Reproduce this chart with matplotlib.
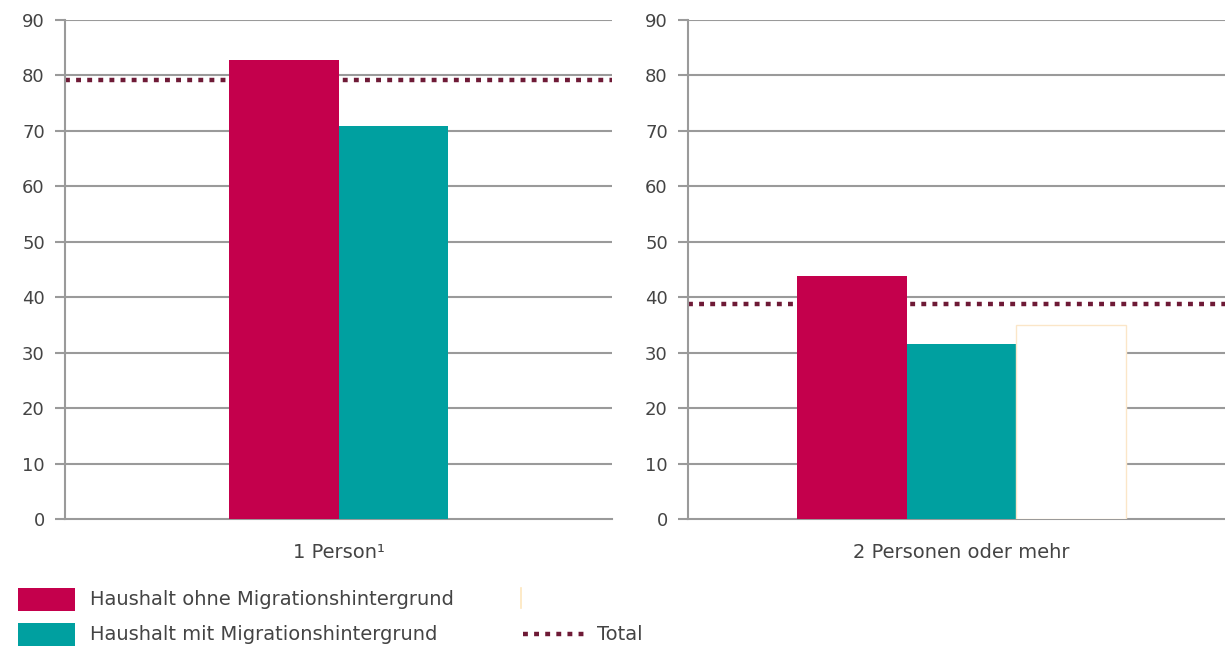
import matplotlib
matplotlib.use("Agg")
import matplotlib.pyplot as plt
from matplotlib.patches import Rectangle
from matplotlib.lines import Line2D

plt.rcParams['font.family'] = ['DejaVu Sans']

# ---- data ----
panels = ["1 Person\u00b9", "2 Personen oder mehr"]
series_names = ["Haushalt ohne Migrationshintergrund", "Haushalt mit Migrationshintergrund"]
total_label = "Total"
ohne_mig = [82.7, 43.9]
mit_mig = [70.9, 31.6]
total = [79.2, 38.8]
masked_third = [None, 35.0]   # blank (white) bar in second panel
yticks = [0, 10, 20, 30, 40, 50, 60, 70, 80, 90]

RED = "#c4004c"
TEAL = "#00a0a0"
TOTAL_C = "#6e1a36"
GRID = "#9a9a9a"
TXT = "#444444"
DOTS = (0, (1.1, 1.4))

fig = plt.figure(figsize=(12.25, 6.48), dpi=100)
W, H = 1225, 648
ax_rects = [
    (65 / W, 1 - 519 / H, 547 / W, 499 / H),
    (688 / W, 1 - 519 / H, 547 / W, 499 / H),
]

for i, rect in enumerate(ax_rects):
    ax = fig.add_axes(rect)
    ax.set_xlim(-2.5, 2.5)
    ax.set_ylim(0, 90)
    ax.set_yticks(yticks)
    for y in yticks[1:]:
        ax.axhline(y, color=GRID, lw=1.5, zorder=1)
    ax.axhline(total[i], color=TOTAL_C, lw=3.2, linestyle=DOTS, zorder=2)
    if masked_third[i] is None:
        xs = [-0.5, 0.5]
    else:
        xs = [-1, 0, 1]
    ax.bar(xs[0], ohne_mig[i], width=1.0, color=RED, zorder=3)
    ax.bar(xs[1], mit_mig[i], width=1.0, color=TEAL, zorder=3)
    if masked_third[i] is not None:
        ax.bar(xs[2], masked_third[i], width=1.0, color="white",
               edgecolor="#fbe6c8", linewidth=1.0, zorder=3)
    for s in ["top", "right"]:
        ax.spines[s].set_visible(False)
    ax.spines["left"].set_color(GRID)
    ax.spines["left"].set_linewidth(1.5)
    ax.spines["bottom"].set_color(GRID)
    ax.spines["bottom"].set_linewidth(1.5)
    ax.tick_params(axis="y", length=7.5, width=1.5, color=GRID, pad=7,
                   labelsize=13, labelcolor=TXT)
    ax.set_xticks([0])
    ax.set_xticklabels([panels[i]])
    ax.tick_params(axis="x", length=0, pad=17, labelsize=14, labelcolor=TXT)

# legend (manual, figure pixel coordinates)
def fx(px):
    return px / W

def fy(py):
    return 1 - py / H

for color, name, top in [(RED, series_names[0], 588), (TEAL, series_names[1], 623)]:
    fig.add_artist(Rectangle((fx(18), fy(top + 23)), 57 / W, 23 / H,
                             transform=fig.transFigure, facecolor=color, edgecolor="none"))
    fig.text(fx(90), fy(top + 11.5), name, fontsize=14, color=TXT, va="center", ha="left")

fig.add_artist(Line2D([fx(523), fx(585)], [fy(634), fy(634)], transform=fig.transFigure,
                      color=TOTAL_C, lw=3.2, linestyle=DOTS))
fig.text(fx(597), fy(634), total_label, fontsize=14, color=TXT, va="center", ha="left")
fig.add_artist(Line2D([fx(521), fx(521)], [fy(588), fy(608)], transform=fig.transFigure,
                      color="#fde6bd", lw=1.2))

fig.savefig("out.png", dpi=100)
